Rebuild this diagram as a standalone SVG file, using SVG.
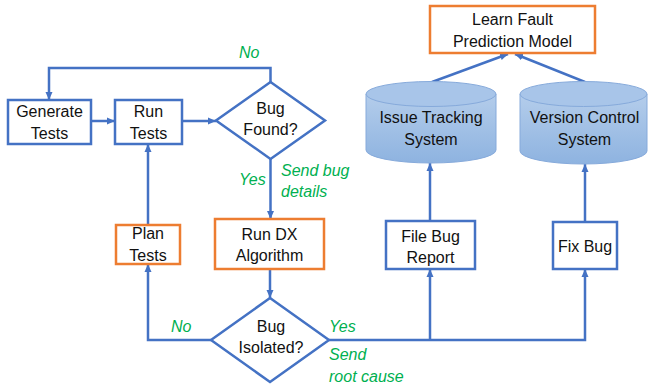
<svg xmlns="http://www.w3.org/2000/svg" width="648" height="386" viewBox="0 0 648 386">
<style>
.box{fill:#fff;stroke:#4472c4;stroke-width:2.5}
.obox{fill:#fff;stroke:#ed7d31;stroke-width:2.5}
.dia{fill:#fff;stroke:#4472c4;stroke-width:2.5}
.ln{fill:none;stroke:#4472c4;stroke-width:2.5}
.arr{marker-end:url(#ah)}
.t{font-family:"Liberation Sans",Arial,sans-serif;font-size:16px;fill:#111;text-anchor:middle}
.g{font-family:"Liberation Sans",Arial,sans-serif;font-size:16px;fill:#00b050;font-style:italic}
.cylb{fill:url(#cg);stroke:#86aadb;stroke-width:1}
.cylt{fill:#a8c5e9;stroke:#86aadb;stroke-width:1}
</style>
<defs>
<marker id="ah" markerUnits="userSpaceOnUse" markerWidth="9" markerHeight="8" refX="8" refY="4" orient="auto">
<path d="M0,0.5 L8,4 L0,7.5 z" fill="#4472c4"/>
</marker>
<linearGradient id="cg" x1="0" y1="0" x2="0" y2="1">
<stop offset="0" stop-color="#b4cdeb"/>
<stop offset="1" stop-color="#8eb3e0"/>
</linearGradient>
</defs>
<g id="connectors">
<polyline class="ln arr" points="91,121 115,121"/>
<polyline class="ln arr" points="182,121 216,121"/>
<polyline class="ln arr" points="270.5,82 270.5,68 49,68 49,100"/>
<polyline class="ln arr" points="270.5,159 270.5,219"/>
<polyline class="ln arr" points="270,269 270,298"/>
<polyline class="ln arr" points="211,340 148,340 148,264"/>
<polyline class="ln arr" points="148,225 148,144"/>
<polyline class="ln arr" points="329,340 585,340 585,269"/>
<polyline class="ln arr" points="430,340 430,269"/>
<polyline class="ln arr" points="430,221 430,163"/>
<polyline class="ln arr" points="585,222 585,164"/>
<polyline class="ln arr" points="432,82 508,54"/>
<polyline class="ln arr" points="585,82 515,54"/>
</g>
<g id="generate-tests">
<rect class="box" x="8" y="100" width="83" height="44"/>
<text class="t" x="49.5" y="117">Generate</text>
<text class="t" x="49.5" y="139">Tests</text>
</g>
<g id="run-tests">
<rect class="box" x="115" y="100" width="67" height="44"/>
<text class="t" x="148.5" y="117">Run</text>
<text class="t" x="148.5" y="139">Tests</text>
</g>
<g id="bug-found">
<polygon class="dia" points="270.5,82 325,120.5 270.5,159 216,120.5"/>
<text class="t" x="270.5" y="114">Bug</text>
<text class="t" x="270.5" y="135">Found?</text>
</g>
<g id="run-dx">
<rect class="obox" x="215" y="219" width="109" height="50"/>
<text class="t" x="269.5" y="240">Run DX</text>
<text class="t" x="269.5" y="261">Algorithm</text>
</g>
<g id="bug-isolated">
<polygon class="dia" points="270,298 329,340 270,382 211,340"/>
<text class="t" x="271" y="332">Bug</text>
<text class="t" x="271" y="353">Isolated?</text>
</g>
<g id="plan-tests">
<rect class="obox" x="116" y="225" width="64" height="39"/>
<text class="t" x="148" y="239">Plan</text>
<text class="t" x="148" y="261">Tests</text>
</g>
<g id="file-bug-report">
<rect class="box" x="386" y="221" width="89" height="48"/>
<text class="t" x="430.5" y="242">File Bug</text>
<text class="t" x="430.5" y="263">Report</text>
</g>
<g id="fix-bug">
<rect class="box" x="553" y="222" width="64" height="47"/>
<text class="t" x="585" y="252">Fix Bug</text>
</g>
<g id="learn-model">
<rect class="obox" x="430" y="6" width="165" height="47"/>
<text class="t" x="512.5" y="25">Learn Fault</text>
<text class="t" x="512.5" y="47">Prediction Model</text>
</g>
<g id="issue-tracking">
<path class="cylb" d="M366,94 L366,150 A65,13 0 0 0 496,150 L496,94 Z"/>
<ellipse class="cylt" cx="431" cy="94" rx="65" ry="12.5"/>
<text class="t" x="431" y="123">Issue Tracking</text>
<text class="t" x="431" y="145">System</text>
</g>
<g id="version-control">
<path class="cylb" d="M520,94 L520,151 A63.5,13 0 0 0 647,151 L647,94 Z"/>
<ellipse class="cylt" cx="583.5" cy="94" rx="63.5" ry="12.5"/>
<text class="t" x="584.5" y="123">Version Control</text>
<text class="t" x="584.5" y="145">System</text>
</g>
<g id="labels">
<text class="g" x="239" y="58">No</text>
<text class="g" x="239" y="185">Yes</text>
<text class="g" x="281" y="176">Send bug</text>
<text class="g" x="281" y="197">details</text>
<text class="g" x="171" y="332">No</text>
<text class="g" x="329" y="332">Yes</text>
<text class="g" x="329" y="360">Send</text>
<text class="g" x="329" y="382">root cause</text>
</g>
</svg>
